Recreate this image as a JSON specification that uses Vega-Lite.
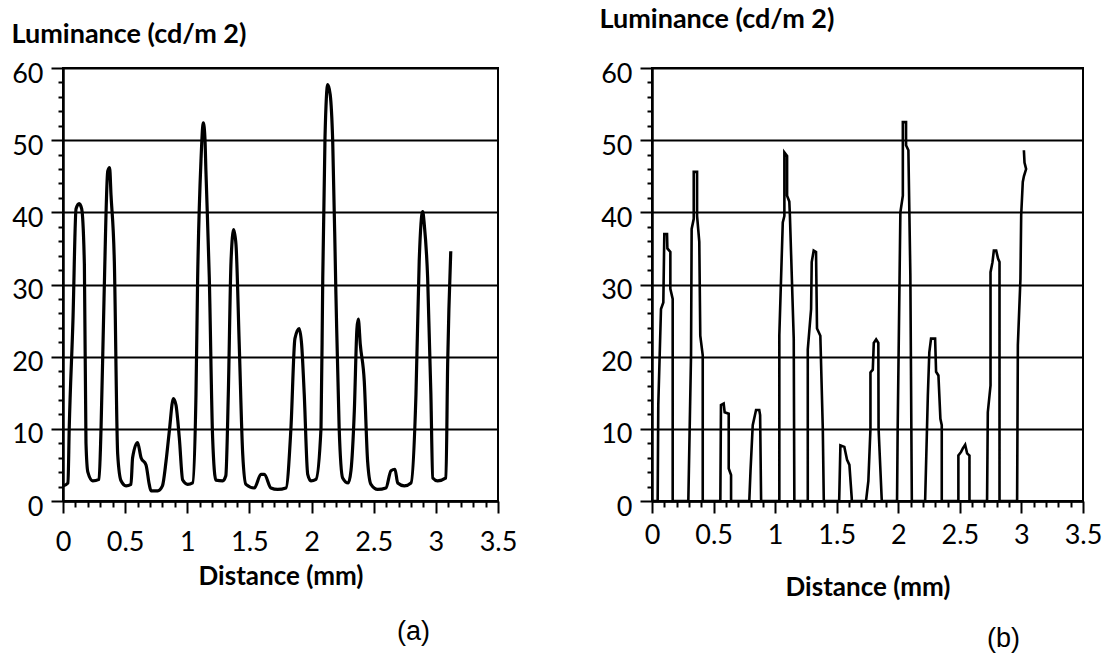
{
  "$schema": "https://vega.github.io/schema/vega-lite/v6.json",
  "autosize": {"type": "pad"},
  "padding": {"left": 10, "top": 4, "right": 0, "bottom": 0},
  "background": "white",
  "bounds": "flush",
  "spacing": 154,
  "config": {
    "view": {"stroke": "black", "strokeWidth": 2},
    "axis": {
      "domainColor": "black", "domainWidth": 2.5,
      "tickColor": "black", "tickWidth": 2,
      "labelColor": "black", "labelFont": "Lato", "labelFontSize": 27,
      "titleColor": "black", "titleFont": "Lato", "titleFontWeight": "bold", "titleFontSize": 26,
      "labelOverlap": false, "labelBound": false, "labelFlush": false
    }
  },
  "datasets": {
    "a": [
      {"x": 0, "y": 2.1}, {"x": 0.04, "y": 2.5}, {"x": 0.05, "y": 10}, {"x": 0.08, "y": 25}, {"x": 0.105, "y": 40.5}, {"x": 0.13, "y": 41.2}, {"x": 0.15, "y": 40.5}, {"x": 0.172, "y": 32.8}, {"x": 0.185, "y": 8}, {"x": 0.2, "y": 4}, {"x": 0.239, "y": 2.8}, {"x": 0.29, "y": 3.0},
      {"x": 0.306, "y": 10}, {"x": 0.33, "y": 28}, {"x": 0.36, "y": 45.7}, {"x": 0.375, "y": 46.2}, {"x": 0.386, "y": 42.5}, {"x": 0.413, "y": 33.2}, {"x": 0.44, "y": 6.5}, {"x": 0.467, "y": 2.8}, {"x": 0.507, "y": 2.1}, {"x": 0.547, "y": 2.3},
      {"x": 0.56, "y": 6.0}, {"x": 0.6, "y": 8.1}, {"x": 0.628, "y": 6.0}, {"x": 0.668, "y": 5}, {"x": 0.694, "y": 2.3}, {"x": 0.708, "y": 1.4}, {"x": 0.762, "y": 1.4}, {"x": 0.8, "y": 2.1},
      {"x": 0.829, "y": 5.5}, {"x": 0.855, "y": 9.6}, {"x": 0.888, "y": 14.2}, {"x": 0.909, "y": 13.3}, {"x": 0.936, "y": 8.7}, {"x": 0.963, "y": 2.9}, {"x": 1.003, "y": 2.3}, {"x": 1.043, "y": 2.5},
      {"x": 1.07, "y": 14.8}, {"x": 1.083, "y": 30.5}, {"x": 1.11, "y": 47.1}, {"x": 1.129, "y": 52.4}, {"x": 1.142, "y": 50.3}, {"x": 1.15, "y": 45.7}, {"x": 1.177, "y": 31}, {"x": 1.204, "y": 8.7}, {"x": 1.23, "y": 2.9}, {"x": 1.285, "y": 2.8}, {"x": 1.31, "y": 3.5},
      {"x": 1.33, "y": 14.8}, {"x": 1.352, "y": 33.2}, {"x": 1.373, "y": 37.6}, {"x": 1.392, "y": 35.5}, {"x": 1.418, "y": 21.7}, {"x": 1.446, "y": 6.5}, {"x": 1.472, "y": 2.3}, {"x": 1.539, "y": 1.8}, {"x": 1.593, "y": 3.7}, {"x": 1.62, "y": 3.7}, {"x": 1.673, "y": 1.8}, {"x": 1.727, "y": 1.6}, {"x": 1.794, "y": 1.8},
      {"x": 1.834, "y": 10.1}, {"x": 1.866, "y": 22.5}, {"x": 1.9, "y": 23.9}, {"x": 1.92, "y": 21.7}, {"x": 1.941, "y": 14.8}, {"x": 1.969, "y": 3.7}, {"x": 1.995, "y": 2.8}, {"x": 2.035, "y": 3.0},
      {"x": 2.076, "y": 10.1}, {"x": 2.09, "y": 30.9}, {"x": 2.108, "y": 50.3}, {"x": 2.13, "y": 57.7}, {"x": 2.15, "y": 56.3}, {"x": 2.17, "y": 49.9}, {"x": 2.196, "y": 28.6}, {"x": 2.222, "y": 10.1}, {"x": 2.25, "y": 3.2}, {"x": 2.295, "y": 2.5}, {"x": 2.317, "y": 4.2},
      {"x": 2.344, "y": 12.5}, {"x": 2.365, "y": 23.9}, {"x": 2.376, "y": 25.2}, {"x": 2.392, "y": 21.7}, {"x": 2.424, "y": 16.6}, {"x": 2.451, "y": 5.5}, {"x": 2.478, "y": 2.3}, {"x": 2.532, "y": 1.6}, {"x": 2.598, "y": 1.8},
      {"x": 2.639, "y": 4.2}, {"x": 2.671, "y": 4.4}, {"x": 2.693, "y": 2.5}, {"x": 2.746, "y": 2.1}, {"x": 2.8, "y": 2.5},
      {"x": 2.84, "y": 14.8}, {"x": 2.866, "y": 33.2}, {"x": 2.894, "y": 40.1}, {"x": 2.907, "y": 38.3}, {"x": 2.934, "y": 30.9}, {"x": 2.96, "y": 14.8}, {"x": 2.975, "y": 3.2}, {"x": 3.014, "y": 2.8}, {"x": 3.081, "y": 3.2}, {"x": 3.095, "y": 19}, {"x": 3.12, "y": 34.6}
    ],
    "b": [
      {"i": 1, "x": 0, "y": 0}, {"i": 2, "x": 0.046, "y": 0}, {"i": 3, "x": 0.051, "y": 13.3}, {"i": 4, "x": 0.073, "y": 26.6}, {"i": 5, "x": 0.092, "y": 27.5}, {"i": 6, "x": 0.1, "y": 37}, {"i": 7, "x": 0.122, "y": 37}, {"i": 8, "x": 0.125, "y": 35}, {"i": 9, "x": 0.149, "y": 34.5}, {"i": 10, "x": 0.149, "y": 29.4}, {"i": 11, "x": 0.168, "y": 28}, {"i": 12, "x": 0.168, "y": 0},
      {"i": 13, "x": 0.295, "y": 0}, {"i": 14, "x": 0.317, "y": 20.2}, {"i": 15, "x": 0.322, "y": 37.7}, {"i": 16, "x": 0.339, "y": 39.1}, {"i": 17, "x": 0.339, "y": 45.6}, {"i": 18, "x": 0.366, "y": 45.6}, {"i": 19, "x": 0.366, "y": 39.5}, {"i": 20, "x": 0.384, "y": 35.9}, {"i": 21, "x": 0.392, "y": 22.9}, {"i": 22, "x": 0.412, "y": 20.2}, {"i": 23, "x": 0.412, "y": 0},
      {"i": 24, "x": 0.555, "y": 0}, {"i": 25, "x": 0.56, "y": 13.3}, {"i": 26, "x": 0.582, "y": 13.5}, {"i": 27, "x": 0.59, "y": 12.3}, {"i": 28, "x": 0.623, "y": 12.1}, {"i": 29, "x": 0.623, "y": 4.5}, {"i": 30, "x": 0.642, "y": 3.6}, {"i": 31, "x": 0.642, "y": 0},
      {"i": 32, "x": 0.79, "y": 0}, {"i": 33, "x": 0.8, "y": 4.2}, {"i": 34, "x": 0.818, "y": 10.5}, {"i": 35, "x": 0.845, "y": 12.6}, {"i": 36, "x": 0.871, "y": 12.6}, {"i": 37, "x": 0.878, "y": 11.9}, {"i": 38, "x": 0.886, "y": 0},
      {"i": 39, "x": 1.034, "y": 0}, {"i": 40, "x": 1.034, "y": 23}, {"i": 41, "x": 1.062, "y": 38.6}, {"i": 42, "x": 1.075, "y": 39.5}, {"i": 43, "x": 1.075, "y": 48.3}, {"i": 44, "x": 1.097, "y": 47.8}, {"i": 45, "x": 1.097, "y": 42.3}, {"i": 46, "x": 1.115, "y": 41.5}, {"i": 47, "x": 1.12, "y": 39.5}, {"i": 48, "x": 1.151, "y": 22.5}, {"i": 49, "x": 1.156, "y": 0},
      {"i": 50, "x": 1.265, "y": 0}, {"i": 51, "x": 1.265, "y": 21}, {"i": 52, "x": 1.292, "y": 26.6}, {"i": 53, "x": 1.297, "y": 33.1}, {"i": 54, "x": 1.313, "y": 34.7}, {"i": 55, "x": 1.332, "y": 34.5}, {"i": 56, "x": 1.34, "y": 23.9}, {"i": 57, "x": 1.367, "y": 22.9}, {"i": 58, "x": 1.387, "y": 10}, {"i": 59, "x": 1.395, "y": 0},
      {"i": 60, "x": 1.52, "y": 0}, {"i": 61, "x": 1.53, "y": 7.7}, {"i": 62, "x": 1.562, "y": 7.5}, {"i": 63, "x": 1.584, "y": 5.7}, {"i": 64, "x": 1.603, "y": 5.0}, {"i": 65, "x": 1.622, "y": 0.4}, {"i": 66, "x": 1.622, "y": 0},
      {"i": 67, "x": 1.738, "y": 0}, {"i": 68, "x": 1.757, "y": 2.8}, {"i": 69, "x": 1.774, "y": 10}, {"i": 70, "x": 1.774, "y": 17.8}, {"i": 71, "x": 1.793, "y": 18.2}, {"i": 72, "x": 1.801, "y": 21.9}, {"i": 73, "x": 1.82, "y": 22.4}, {"i": 74, "x": 1.838, "y": 21.9}, {"i": 75, "x": 1.84, "y": 10}, {"i": 76, "x": 1.866, "y": 0},
      {"i": 77, "x": 1.99, "y": 0}, {"i": 78, "x": 1.995, "y": 10}, {"i": 79, "x": 2.017, "y": 40}, {"i": 80, "x": 2.037, "y": 42.3}, {"i": 81, "x": 2.037, "y": 52.5}, {"i": 82, "x": 2.063, "y": 52.5}, {"i": 83, "x": 2.063, "y": 49.3}, {"i": 84, "x": 2.082, "y": 48.6}, {"i": 85, "x": 2.098, "y": 31.3}, {"i": 86, "x": 2.11, "y": 0},
      {"i": 87, "x": 2.218, "y": 0}, {"i": 88, "x": 2.24, "y": 14.6}, {"i": 89, "x": 2.252, "y": 20.6}, {"i": 90, "x": 2.266, "y": 22.5}, {"i": 91, "x": 2.299, "y": 22.5}, {"i": 92, "x": 2.307, "y": 17.9}, {"i": 93, "x": 2.326, "y": 17.4}, {"i": 94, "x": 2.342, "y": 11.4}, {"i": 95, "x": 2.353, "y": 10.5}, {"i": 96, "x": 2.353, "y": 0},
      {"i": 97, "x": 2.488, "y": 0}, {"i": 98, "x": 2.488, "y": 6.3}, {"i": 99, "x": 2.51, "y": 6.8}, {"i": 100, "x": 2.524, "y": 7.3}, {"i": 101, "x": 2.543, "y": 7.8}, {"i": 102, "x": 2.559, "y": 6.6}, {"i": 103, "x": 2.578, "y": 6.3}, {"i": 104, "x": 2.578, "y": 0},
      {"i": 105, "x": 2.721, "y": 0}, {"i": 106, "x": 2.727, "y": 12.3}, {"i": 107, "x": 2.749, "y": 16}, {"i": 108, "x": 2.749, "y": 31.7}, {"i": 109, "x": 2.765, "y": 33.1}, {"i": 110, "x": 2.776, "y": 34.7}, {"i": 111, "x": 2.795, "y": 34.7}, {"i": 112, "x": 2.81, "y": 33.6}, {"i": 113, "x": 2.822, "y": 33.1}, {"i": 114, "x": 2.822, "y": 0},
      {"i": 115, "x": 2.965, "y": 0}, {"i": 116, "x": 2.971, "y": 21.6}, {"i": 117, "x": 2.992, "y": 30.8}, {"i": 118, "x": 2.998, "y": 39.6}, {"i": 119, "x": 3.011, "y": 44.2}, {"i": 120, "x": 3.02, "y": 45}, {"i": 121, "x": 3.038, "y": 46}, {"i": 122, "x": 3.025, "y": 46.9}, {"i": 123, "x": 3.02, "y": 48.6}
    ]
  },
  "hconcat": [
    {
      "width": 435,
      "height": 433,
      "data": {"name": "a"},
      "title": {"text": "(a)", "orient": "bottom", "anchor": "middle", "dx": 133, "offset": 30, "font": "Liberation Sans", "fontSize": 27, "fontWeight": "normal", "color": "black"},
      "mark": {"type": "line", "color": "black", "strokeWidth": 3.2, "interpolate": "monotone"},
      "encoding": {
        "x": {
          "field": "x", "type": "quantitative",
          "scale": {"domain": [0, 3.5], "nice": false, "zero": false},
          "axis": {
            "title": "Distance (mm)",
            "values": [0, 0.1, 0.2, 0.3, 0.4, 0.5, 0.6, 0.7, 0.8, 0.9, 1, 1.1, 1.2, 1.3, 1.4, 1.5, 1.6, 1.7, 1.8, 1.9, 2, 2.1, 2.2, 2.3, 2.4, 2.5, 2.6, 2.7, 2.8, 2.9, 3, 3.1, 3.2, 3.3, 3.4, 3.5],
            "labelExpr": "abs(datum.value * 2 - round(datum.value * 2)) < 0.001 ? format(datum.value, '~g') : ''",
            "tickSize": {"condition": {"test": "abs(datum.value * 2 - round(datum.value * 2)) < 0.001", "value": 12}, "value": 6},
            "labelPadding": 16, "labelDx": 3, "titlePadding": 8, "grid": false
          }
        },
        "y": {
          "field": "y", "type": "quantitative",
          "scale": {"domain": [0, 60], "nice": false},
          "axis": {
            "title": "Luminance (cd/m 2)", "titleFontSize": 27,
            "titleAngle": 0, "titleAlign": "left", "titleBaseline": "middle", "titleX": -52, "titleY": -34,
            "values": [0, 2, 4, 6, 8, 10, 12, 14, 16, 18, 20, 22, 24, 26, 28, 30, 32, 34, 36, 38, 40, 42, 44, 46, 48, 50, 52, 54, 56, 58, 60],
            "labelExpr": "datum.value % 10 === 0 ? datum.label : ''",
            "tickSize": {"condition": {"test": "datum.value % 10 === 0", "value": 12}, "value": 5},
            "grid": true, "gridColor": "black", "gridWidth": 2.2,
            "gridOpacity": {"condition": {"test": "datum.value % 10 === 0", "value": 1}, "value": 0},
            "labelPadding": 8, "labelOffset": 6
          }
        }
      }
    },
    {
      "width": 431,
      "height": 433,
      "data": {"name": "b"},
      "title": {"text": "(b)", "orient": "bottom", "anchor": "middle", "dx": 136, "offset": 26, "font": "Liberation Sans", "fontSize": 27, "fontWeight": "normal", "color": "black"},
      "mark": {"type": "line", "color": "black", "strokeWidth": 2.6, "interpolate": "linear"},
      "encoding": {
        "order": {"field": "i", "type": "quantitative"},
        "x": {
          "field": "x", "type": "quantitative",
          "scale": {"domain": [0, 3.5], "nice": false, "zero": false},
          "axis": {
            "title": "Distance (mm)",
            "values": [0, 0.1, 0.2, 0.3, 0.4, 0.5, 0.6, 0.7, 0.8, 0.9, 1, 1.1, 1.2, 1.3, 1.4, 1.5, 1.6, 1.7, 1.8, 1.9, 2, 2.1, 2.2, 2.3, 2.4, 2.5, 2.6, 2.7, 2.8, 2.9, 3, 3.1, 3.2, 3.3, 3.4, 3.5],
            "labelExpr": "abs(datum.value * 2 - round(datum.value * 2)) < 0.001 ? format(datum.value, '~g') : ''",
            "tickSize": {"condition": {"test": "abs(datum.value * 2 - round(datum.value * 2)) < 0.001", "value": 12}, "value": 6},
            "labelPadding": 9, "labelDx": 3, "titlePadding": 26, "grid": false
          }
        },
        "y": {
          "field": "y", "type": "quantitative",
          "scale": {"domain": [0, 60], "nice": false},
          "axis": {
            "title": "Luminance (cd/m 2)", "titleFontSize": 27,
            "titleAngle": 0, "titleAlign": "left", "titleBaseline": "middle", "titleX": -53, "titleY": -49,
            "values": [0, 2, 4, 6, 8, 10, 12, 14, 16, 18, 20, 22, 24, 26, 28, 30, 32, 34, 36, 38, 40, 42, 44, 46, 48, 50, 52, 54, 56, 58, 60],
            "labelExpr": "datum.value % 10 === 0 ? datum.label : ''",
            "tickSize": {"condition": {"test": "datum.value % 10 === 0", "value": 12}, "value": 5},
            "grid": true, "gridColor": "black", "gridWidth": 2.2,
            "gridOpacity": {"condition": {"test": "datum.value % 10 === 0", "value": 1}, "value": 0},
            "labelPadding": 8, "labelOffset": 6
          }
        }
      }
    }
  ]
}
